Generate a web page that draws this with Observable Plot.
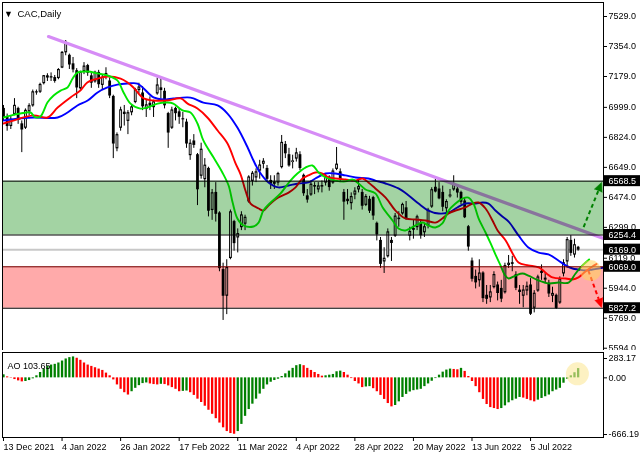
<!DOCTYPE html>
<html><head><meta charset="utf-8">
<script src="https://cdn.jsdelivr.net/npm/d3@7"></script>
<script src="https://cdn.jsdelivr.net/npm/@observablehq/plot@0.6"></script>
<style>
html,body{margin:0;padding:0;background:#fff;}
#chart{position:relative;width:640px;height:457px;overflow:hidden;background:#fff;}
#chart svg{position:absolute;left:0;display:block;}
</style></head><body><div id="chart"></div>
<script>
// ---- candles (CAC 40 daily, 13 Dec 2021 .. 22 Jul 2022), one per trading day ----
const opens = [
6990,6941,6890,6960,6990,6900,6880,6975,7010,7087,
7090,7140,7180,7175,7170,7170,7231,7320,7300,7250,
7210,7110,7210,7240,7180,7150,7200,7130,7180,7150,
7060,6760,6880,6960,6920,6970,7030,7100,7080,6990,
7020,7000,7080,7110,7090,6960,6880,6990,6970,6930,
6910,6720,6800,6720,6600,6580,6640,6400,6500,6380,
6050,5900,6120,6330,6240,6300,6320,6450,6570,6590,
6630,6670,6640,6570,6560,6560,6650,6780,6720,6680,
6700,6720,6600,6480,6490,6540,6520,6540,6560,6590,
6560,6640,6620,6500,6460,6440,6490,6520,6500,6430,
6460,6470,6320,6220,6100,6130,6220,6250,6350,6380,
6410,6250,6290,6300,6320,6270,6310,6420,6530,6520,
6500,6410,6480,6520,6520,6500,6450,6300,6100,6010,
5990,6030,5900,5890,5950,5960,5940,5920,6080,6090,
6020,5930,5900,5930,5960,5830,5930,6040,6000,5970,
5900,5900,5860,6030,6100,6220,6140,6180];
const highs = [
7010,6960,6950,7050,7000,6920,6990,7020,7100,7100,
7140,7185,7195,7200,7185,7225,7325,7389,7310,7290,
7225,7210,7260,7250,7200,7210,7215,7185,7230,7170,
7070,6850,7000,7010,6980,7010,7110,7140,7120,7040,
7060,7040,7170,7175,7110,6970,7000,7000,6990,6970,
6930,6810,6840,6730,6790,6700,6650,6520,6560,6390,
6090,6110,6400,6340,6290,6390,6370,6600,6625,6640,
6690,6700,6660,6600,6600,6620,6835,6800,6760,6720,
6760,6740,6610,6520,6570,6560,6560,6570,6610,6600,
6640,6765,6640,6520,6520,6500,6530,6580,6520,6490,
6480,6480,6330,6240,6180,6290,6240,6380,6390,6440,
6450,6300,6340,6370,6340,6320,6410,6530,6580,6560,
6540,6460,6520,6600,6540,6510,6470,6310,6120,6050,
6110,6040,5960,5960,6040,5980,5990,6090,6135,6130,
6040,5960,5960,5980,6000,5930,6020,6080,6030,5990,
5950,5910,6010,6110,6240,6251,6230,6188];
const lows = [
6920,6860,6870,6950,6900,6735,6870,6950,7000,7070,
7080,7130,7150,7150,7140,7160,7225,7300,7220,7200,
7050,7100,7190,7180,7110,7140,7110,7100,7160,7050,
6700,6740,6860,6890,6840,6950,7020,7080,6980,6940,
6980,6940,7070,7050,6990,6760,6870,6920,6900,6880,
6760,6690,6760,6426,6580,6530,6360,6340,6330,6040,
5756,5790,6110,6160,6150,6280,6280,6440,6540,6560,
6580,6640,6560,6520,6520,6540,6640,6700,6650,6640,
6680,6630,6480,6440,6480,6490,6500,6500,6540,6510,
6550,6630,6560,6340,6430,6400,6460,6500,6400,6420,
6380,6340,6220,6060,6030,6120,6100,6240,6300,6370,
6340,6220,6230,6280,6230,6240,6290,6410,6500,6460,
6390,6380,6470,6510,6470,6430,6350,6160,5980,5940,
5950,5860,5850,5860,5940,5870,5860,5910,6060,6040,
5930,5850,5830,5900,5785,5800,5920,5990,5970,5890,
5860,5820,5850,6010,6060,6130,6120,6160];
const closes = [
6941,6890,6927,7008,6926,6870,6979,7006,7087,7086,
7130,7181,7173,7173,7153,7217,7317,7376,7249,7220,
7115,7201,7237,7201,7143,7201,7134,7172,7194,7068,
6788,6837,6982,6968,6965,6999,7100,7115,7005,7011,
7009,7029,7127,7100,7011,6852,6981,6965,6944,6929,
6788,6787,6780,6521,6752,6659,6396,6498,6378,6061,
5900,6062,6387,6207,6260,6369,6355,6590,6612,6620,
6660,6682,6582,6554,6553,6610,6792,6731,6660,6684,
6731,6645,6498,6461,6548,6537,6538,6537,6590,6534,
6625,6665,6581,6449,6452,6476,6508,6534,6425,6476,
6396,6368,6258,6086,6116,6270,6208,6362,6347,6430,
6352,6272,6285,6358,6253,6300,6397,6516,6508,6468,
6419,6447,6485,6549,6502,6448,6358,6187,5999,5978,
6030,5886,5882,5920,6021,5916,5883,6073,6087,6086,
5946,5922,5931,5953,5795,5912,6007,6033,5994,5913,
5911,5829,5995,6090,6225,6150,6195,6169];

// ---- Alligator lines: [bar index, price] ----
const jaw = [[0,6922],[4.6,6934],[8.2,6940],[14.8,6940],[17.5,6969],[20.2,7010],[23.0,7039],[25.7,7086],[28.4,7115],[31.1,7132],[33.9,7138],[36.6,7138],[38.3,7109],[41.0,7057],[43.7,7045],[46.4,7051],[50.3,7057],[51.9,7051],[54.6,7027],[58.5,7010],[61.2,6963],[63.9,6881],[66.7,6765],[68.3,6689],[69.7,6631],[72.4,6561],[75.1,6532],[77.9,6543],[80.6,6555],[83.3,6561],[85.2,6584],[88.0,6613],[90.7,6613],[93.4,6602],[96.2,6590],[99.7,6584],[101.6,6572],[104.4,6555],[107.9,6526],[110.7,6485],[113.4,6438],[116.1,6397],[118.9,6380],[121.6,6386],[124.0,6415],[126.2,6438],[129.0,6438],[130.9,6444],[132.5,6438],[134.4,6397],[136.3,6362],[138.0,6333],[140.7,6252],[143.4,6182],[146.2,6152],[148.9,6141],[151.6,6106],[153.6,6077],[155.5,6059],[157.1,6053],[159.0,6047],[160.9,6053],[162.6,6059],[165,6068]];
const teeth = [[0,6905],[1.9,6917],[8.2,6952],[12.0,6940],[14.8,6998],[18.3,7057],[21.0,7097],[22.9,7144],[25.7,7167],[28.4,7179],[32.0,7167],[33.9,7144],[35.5,7115],[38.3,7051],[41.0,7039],[44.8,7039],[48.4,7051],[50.3,7021],[53.0,6992],[55.7,6940],[58.5,6864],[61.2,6788],[63.4,6672],[64.8,6607],[66.1,6514],[67.5,6438],[69.7,6409],[71.0,6397],[72.4,6427],[75.1,6473],[77.9,6502],[79.8,6532],[81.7,6584],[83.3,6602],[85.2,6619],[87.2,6613],[88.8,6590],[90.7,6584],[93.4,6578],[96.2,6572],[98.1,6584],[99.7,6561],[101.6,6526],[104.4,6473],[107.1,6397],[109.8,6351],[112.6,6345],[115.3,6339],[118.0,6327],[119.9,6351],[121.6,6380],[123.5,6397],[126.2,6415],[128.1,6438],[129.8,6444],[131.7,6409],[133.6,6339],[135.0,6281],[137.2,6222],[139.1,6147],[140.7,6094],[143.4,6077],[146.2,6065],[150.0,6007],[153.6,6001],[155.5,5995],[157.1,6007],[159.0,6042],[160.9,6071],[162,6085]];
const lips = [[0,6940],[1.9,6951],[4.6,6963],[7.4,6969],[8.6,6942],[10.1,6946],[12.0,7027],[13.7,7068],[15.6,7097],[17.5,7115],[18.9,7167],[20.2,7202],[23.0,7208],[25.7,7197],[28.4,7185],[31.1,7156],[32.8,7086],[34.7,7021],[37.4,6992],[39.3,6998],[42.1,7021],[44.8,7027],[46.4,7021],[48.9,6981],[51.1,6969],[53.0,6905],[54.6,6806],[57.4,6706],[59.8,6619],[61.5,6543],[62.6,6444],[63.9,6351],[65.6,6310],[68.3,6304],[69.7,6327],[71.0,6397],[73.0,6444],[75.7,6497],[78.4,6572],[80.3,6613],[82.5,6648],[84.4,6660],[86.1,6619],[88.0,6590],[90.7,6572],[93.4,6567],[95.4,6578],[97.0,6555],[98.9,6520],[101.6,6497],[103.6,6415],[106.3,6339],[107.9,6292],[109.8,6281],[112.6,6310],[114.5,6327],[116.1,6310],[118.0,6298],[119.9,6322],[121.6,6397],[123.5,6438],[125.4,6467],[127.0,6473],[128.4,6438],[129.8,6351],[131.7,6269],[133.1,6205],[134.4,6141],[135.8,6077],[136.9,6024],[138.0,6001],[139.9,6018],[141.8,6030],[143.4,6018],[146.2,5989],[148.9,5972],[151.6,5977],[154.4,5977],[156.3,6030],[158.2,6077],[160,6112]];

// ---- Awesome Oscillator, one value per bar ----
const aoValues = [
34,11,-4,-19,-34,-45,-41,-30,-11,23,
60,98,128,143,151,166,188,211,226,234,
219,196,166,143,128,113,98,83,53,23,
-23,-79,-128,-166,-192,-155,-117,-87,-64,-57,
-68,-75,-79,-72,-75,-90,-109,-128,-155,-151,
-147,-166,-196,-238,-275,-317,-362,-407,-456,-505,
-558,-600,-622,-630,-600,-520,-430,-354,-294,-238,
-181,-128,-79,-49,-30,-15,15,45,75,106,
136,147,136,106,83,60,38,19,23,30,
38,68,75,60,30,-8,-41,-68,-109,-102,
-98,-121,-155,-196,-241,-287,-324,-309,-268,-219,
-185,-158,-143,-136,-128,-98,-68,-38,-8,30,
64,87,98,94,90,106,72,15,-41,-98,
-166,-241,-298,-332,-343,-354,-343,-313,-279,-256,
-238,-219,-226,-241,-256,-268,-249,-230,-211,-192,
-155,-136,-117,-60,-15,23,57,103.65];

// ---- levels, ticks, labels ----
const greenZone = [6254.4, 6568.5];
const redZone = [5827.2, 6069.0];
const blackLevels = [6568.5, 6254.4, 5827.2];
const maroonLevels = [6069.0];
const bidPrice = 6169.0;
const boxLevels = [6568.5, 6254.4, 6169.0, 6069.0, 5827.2];
const priceTicks = [7529.0, 7354.0, 7179.0, 6999.0, 6824.0, 6649.0, 6474.0, 6299.0, 6119.0, 5944.0, 5769.0, 5594.0];
const dateLabels = ["13 Dec 2021","4 Jan 2022","26 Jan 2022","17 Feb 2022","11 Mar 2022","4 Apr 2022","28 Apr 2022","20 May 2022","13 Jun 2022","5 Jul 2022"];
const dateLabelIdx = [0,16,32,48,64,80,96,112,128,144];
const aoTop = 283.17, aoBottom = -666.19;
const titleText = "CAC,Daily";
const aoTitle = "AO 103.65";

// ---- annotations (bar index, price); arrow tip = (ti, tv) ----
const trend = [[12.3, 7412], [163.93, 6234]];
const upArrow = {i1: 158.5, v1: 6300, i2: 162.5, v2: 6512, ti: 163.4, tv: 6561, rot: 22};
const downArrow = {i1: 159.8, v1: 6047, i2: 162.6, v2: 5882, ti: 163.4, tv: 5832, rot: 162};
const mainHighlight = {i: 160.4, v: 6047};
const aoHighlight = {i: 156.8, v: 45};

// ---- layout ----
const W = 640;
const X_DOMAIN = [-0.27, 163.93];
const Y_DOMAIN = [5580.7, 7610.7];
const FONT = "'Liberation Sans', Arial, sans-serif";

const bars = closes.map((c, i) => ({i, o: opens[i], h: highs[i], l: lows[i], c,
  top: Math.max(opens[i], c), bot: Math.min(opens[i], c)}));
const bull = bars.filter(d => d.c >= d.o);
const pts = a => a.map(([i, v]) => ({i, v}));
const ao = aoValues.map((v, i) => ({i, v, up: i === 0 || v > aoValues[i - 1]}));

const main = Plot.plot({
  width: W, height: 351,
  marginLeft: 2, marginRight: 37, marginTop: 2, marginBottom: 1,
  x: {domain: X_DOMAIN, axis: null, label: null},
  y: {domain: Y_DOMAIN, axis: null, label: null},
  style: {fontFamily: FONT, fontSize: "9px", background: "white", overflow: "visible", color: "black"},
  marks: [
    Plot.ruleY([bidPrice], {stroke: "#c8c8c8", strokeWidth: 2}),
    Plot.ruleX(bars, {x: "i", y1: "h", y2: "l", stroke: "#000", strokeWidth: 1}),
    Plot.ruleX(bars, {x: "i", y1: "top", y2: "bot", stroke: "#000", strokeWidth: 2.8, insetTop: -0.5, insetBottom: -0.5}),
    Plot.ruleX(bull, {x: "i", y1: "top", y2: "bot", stroke: "#e0e0e0", strokeWidth: 1, insetTop: 0.7, insetBottom: 0.7}),
    Plot.line(pts(jaw), {x: "i", y: "v", stroke: "#0000ff", strokeWidth: 1.9, curve: "catmull-rom", clip: true}),
    Plot.line(pts(teeth), {x: "i", y: "v", stroke: "#ff0000", strokeWidth: 1.9, curve: "catmull-rom", clip: true}),
    Plot.line(pts(lips), {x: "i", y: "v", stroke: "#00e600", strokeWidth: 1.9, curve: "catmull-rom", clip: true}),
    Plot.line(pts(trend), {x: "i", y: "v", stroke: "#d68cf6", strokeWidth: 3.2, clip: true}),
    Plot.rect([greenZone], {y1: d => d[0], y2: d => d[1], fill: "#a3d3a3", mixBlendMode: "multiply"}),
    Plot.rect([redZone], {y1: d => d[0], y2: d => d[1], fill: "#ffaaaa", mixBlendMode: "multiply"}),
    Plot.ruleY(blackLevels, {stroke: "#000", strokeWidth: 1}),
    Plot.ruleY(maroonLevels, {stroke: "#700000", strokeWidth: 1}),
    Plot.link([upArrow], {x1: "i1", y1: "v1", x2: "i2", y2: "v2", stroke: "#008000", strokeWidth: 2, strokeDasharray: "4,3"}),
    Plot.vector([upArrow], {x: "ti", y: "tv", rotate: upArrow.rot, length: 9, r: 4.2, shape: "spike", anchor: "end",
      fill: "#008000", stroke: "#008000", strokeWidth: 0.5}),
    Plot.link([downArrow], {x1: "i1", y1: "v1", x2: "i2", y2: "v2", stroke: "#ff0000", strokeWidth: 2, strokeDasharray: "4,3"}),
    Plot.vector([downArrow], {x: "ti", y: "tv", rotate: downArrow.rot, length: 9, r: 4.2, shape: "spike", anchor: "end",
      fill: "#ff0000", stroke: "#ff0000", strokeWidth: 0.5}),
    Plot.dot([mainHighlight], {x: "i", y: "v", r: 10.5, fill: "#ffd35a", fillOpacity: 0.55}),
    Plot.frame({stroke: "#000"}),
    Plot.axisY(priceTicks, {anchor: "right", tickSize: 3, tickPadding: 2, tickFormat: d => d.toFixed(1)}),
    Plot.rect(boxLevels, {x1: X_DOMAIN[1], x2: X_DOMAIN[1], y1: d => d, y2: d => d,
      insetLeft: 1, insetRight: -37, insetTop: -5.5, insetBottom: -5.5, fill: "#000"}),
    Plot.text(boxLevels, {x: X_DOMAIN[1], y: d => d, text: d => d.toFixed(1), dx: 5, textAnchor: "start", fill: "#fff"}),
    Plot.text(["▼"], {frameAnchor: "top-left", dx: 6, dy: 8, fontSize: 9, textAnchor: "middle"}),
    Plot.text([titleText], {frameAnchor: "top-left", dx: 15, dy: 8, textAnchor: "start", fontSize: 9.5})
  ]
});

const aoPlot = Plot.plot({
  width: W, height: 107,
  marginLeft: 2, marginRight: 37, marginTop: 2, marginBottom: 20,
  x: {domain: X_DOMAIN, axis: null, label: null},
  y: {domain: [aoBottom, aoTop], axis: null, label: null},
  style: {fontFamily: FONT, fontSize: "9px", background: "white", overflow: "visible", color: "black"},
  marks: [
    Plot.ruleX(ao.filter(d => d.up), {x: "i", y1: 0, y2: "v", stroke: "#008000", strokeWidth: 2.3}),
    Plot.ruleX(ao.filter(d => !d.up), {x: "i", y1: 0, y2: "v", stroke: "#ff0000", strokeWidth: 2.3}),
    Plot.dot([aoHighlight], {x: "i", y: "v", r: 11.5, fill: "#fbe79a", fillOpacity: 0.6}),
    Plot.frame({stroke: "#000"}),
    Plot.axisY([0], {anchor: "right", tickSize: 3, tickPadding: 2, tickFormat: d => d.toFixed(2)}),
    Plot.axisY([aoTop], {anchor: "right", tickSize: 3, tickPadding: 2, tickFormat: d => d.toFixed(2), dy: 6}),
    Plot.axisY([aoBottom], {anchor: "right", tickSize: 3, tickPadding: 2, tickFormat: d => d.toFixed(2), dy: -3}),
    Plot.axisX(dateLabelIdx, {anchor: "bottom", tickSize: 4, tickPadding: 2, textAnchor: "start",
      tickFormat: d => dateLabels[dateLabelIdx.indexOf(d)]}),
    Plot.text([aoTitle], {frameAnchor: "top-left", dx: 5, dy: 10, textAnchor: "start"})
  ]
});

const root = document.getElementById("chart");
main.style.top = "0px";
aoPlot.style.top = "350px";
root.appendChild(main);
root.appendChild(aoPlot);
</script>
</body></html>
